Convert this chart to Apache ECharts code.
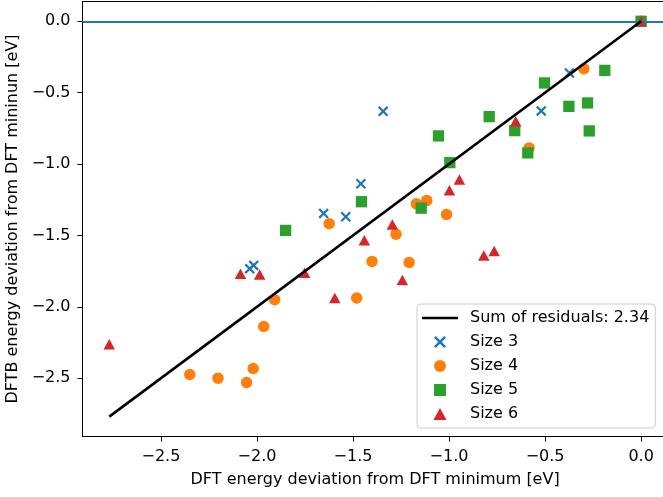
<!DOCTYPE html>
<html>
<head>
<meta charset="utf-8">
<script src="https://cdn.jsdelivr.net/npm/echarts@6/dist/echarts.min.js"></script>
<style>
  html, body { margin: 0; padding: 0; background: #fff; }
  #chart { width: 663px; height: 497px; }
</style>
</head>
<body>
<div id="chart"></div>
<script>
// values
const size3X = [-1.343, -1.459, -1.653, -1.538, -2.017, -2.038, -0.373, -0.520, 0.0];
const size3Y = [-0.631, -1.138, -1.346, -1.369, -1.710, -1.733, -0.362, -0.628, 0.0];

const size4X = [0.0, -0.298, -0.583, -1.116, -1.170, -1.013, -1.276, -1.624, -1.401, -1.208, -1.481, -1.908, -1.965, -2.350, -2.203, -2.020, -2.054];
const size4Y = [0.0, -0.332, -0.887, -1.255, -1.279, -1.353, -1.491, -1.418, -1.682, -1.689, -1.938, -1.950, -2.138, -2.474, -2.500, -2.432, -2.530];

const size5X = [0.0, -0.189, -0.503, -0.376, -0.279, -0.270, -0.791, -0.658, -0.590, -1.055, -0.996, -1.145, -1.456, -1.851];
const size5Y = [0.0, -0.344, -0.432, -0.596, -0.572, -0.768, -0.668, -0.766, -0.922, -0.803, -0.990, -1.309, -1.264, -1.465];

const size6X = [0.0, -0.653, -0.946, -0.998, -1.295, -1.441, -1.752, -1.986, -2.086, -1.595, -1.243, -0.819, -0.765, -2.769];
const size6Y = [0.0, -0.700, -1.108, -1.183, -1.423, -1.533, -1.761, -1.773, -1.768, -1.938, -1.812, -1.640, -1.610, -2.262];

// y = x reference line
const fitX = [-2.769, 0.0];
const fitY = [-2.769, 0.0];

const xTicks = [-2.5, -2.0, -1.5, -1.0, -0.5, 0.0];
const yTicks = [0.0, -0.5, -1.0, -1.5, -2.0, -2.5];

const FONT = "DejaVu Sans";
// matplotlib style "x" marker as a filled path
const crossPath = "path://M0,3 L3,0 L10,7 L17,0 L20,3 L13,10 L20,17 L17,20 L10,13 L3,20 L0,17 L7,10 Z";
const squarePath = "path://M0,0 L10,0 L10,10 L0,10 Z";
const trianglePath = "path://M5,0 L10,9.2 L0,9.2 Z";
const linePath = "path://M0,0 L36,0 L36,2.6 L0,2.6 Z";

function zip(xs, ys) {
  return xs.map((x, i) => [x, ys[i]]);
}
function fmt(v) {
  let s = Math.abs(v).toFixed(1);
  return v < 0 ? "\u2212" + s : s;
}

let chart = echarts.init(document.getElementById("chart"), null, { renderer: "canvas" });

let option = {
  animation: false,
  backgroundColor: "#fff",
  textStyle: { fontFamily: FONT },
  grid: {
    left: 82.5,
    top: 1.5,
    right: -4.7,
    bottom: 60.5,
    containLabel: false,
    outerBoundsMode: "none",
    show: true,
    borderColor: "#000",
    borderWidth: 1,
    backgroundColor: "transparent"
  },
  legend: {
    orient: "vertical",
    left: 417,
    top: 304,
    padding: [6, 6, 6, 5],
    itemWidth: 36,
    itemHeight: 12,
    itemGap: 8,
    symbolKeepAspect: true,
    backgroundColor: "rgba(255,255,255,0.8)",
    borderColor: "#cccccc",
    borderWidth: 1,
    borderRadius: 4,
    textStyle: {
      fontFamily: FONT,
      fontSize: 16,
      lineHeight: 16,
      color: "#000",
      padding: [0, 0, 0, 7]
    },
    data: [
      { name: "Sum of residuals: 2.34", icon: linePath },
      { name: "Size 3", icon: crossPath },
      { name: "Size 4", icon: "circle" },
      { name: "Size 5", icon: squarePath },
      { name: "Size 6", icon: trianglePath }
    ]
  },
  xAxis: {
    type: "value",
    min: -2.9085,
    max: 0.1385,
    name: "DFT energy deviation from DFT minimum [eV]",
    nameLocation: "middle",
    nameGap: 35,
    nameTextStyle: { fontFamily: FONT, fontSize: 16, color: "#000" },
    axisLine: { onZero: false, lineStyle: { color: "#000", width: 1 } },
    axisTick: {
      show: true,
      length: 5,
      customValues: xTicks,
      lineStyle: { color: "#000", width: 1 }
    },
    axisLabel: {
      customValues: xTicks,
      margin: 12,
      fontFamily: FONT,
      fontSize: 16,
      color: "#000",
      formatter: fmt
    },
    splitLine: { show: false }
  },
  yAxis: {
    type: "value",
    min: -2.9085,
    max: 0.1385,
    name: "DFTB energy deviation from DFT mininun [eV]",
    nameLocation: "middle",
    nameGap: 58,
    nameRotate: 90,
    nameTextStyle: { fontFamily: FONT, fontSize: 16, color: "#000" },
    axisLine: { onZero: false, lineStyle: { color: "#000", width: 1 } },
    axisTick: {
      show: true,
      length: 5,
      customValues: yTicks,
      lineStyle: { color: "#000", width: 1 }
    },
    axisLabel: {
      customValues: yTicks,
      margin: 12,
      fontFamily: FONT,
      fontSize: 16,
      color: "#000",
      formatter: fmt
    },
    splitLine: { show: false }
  },
  series: [
    {
      name: "Sum of residuals: 2.34",
      type: "line",
      data: zip(fitX, fitY),
      symbol: "none",
      showSymbol: false,
      lineStyle: { color: "#000", width: 2.6 },
      itemStyle: { color: "#000" },
      z: 5
    },
    {
      name: "Size 3",
      type: "scatter",
      data: zip(size3X, size3Y),
      symbol: crossPath,
      symbolSize: 10.5,
      itemStyle: { color: "#1f77b4", opacity: 1 },
      z: 2
    },
    {
      name: "Size 4",
      type: "scatter",
      data: zip(size4X, size4Y),
      symbol: "circle",
      symbolSize: 11.5,
      itemStyle: { color: "#ff7f0e", opacity: 1 },
      z: 2
    },
    {
      name: "Size 5",
      type: "scatter",
      data: zip(size5X, size5Y),
      symbol: "rect",
      symbolSize: 11.3,
      itemStyle: { color: "#2ca02c", opacity: 1 },
      z: 2
    },
    {
      name: "Size 6",
      type: "scatter",
      data: zip(size6X, size6Y),
      symbol: "triangle",
      symbolSize: [11.5, 10.5],
      itemStyle: { color: "#d62728", opacity: 1 },
      z: 2
    },
    {
      // horizontal line at zero
      name: "zero",
      type: "line",
      data: [],
      silent: true,
      markLine: {
        symbol: "none",
        silent: true,
        label: { show: false },
        lineStyle: { color: "#1f77b4", width: 2.2, type: "solid" },
        data: [{ yAxis: 0 }]
      },
      z: 4
    }
  ]
};

chart.setOption(option);
</script>
</body>
</html>
